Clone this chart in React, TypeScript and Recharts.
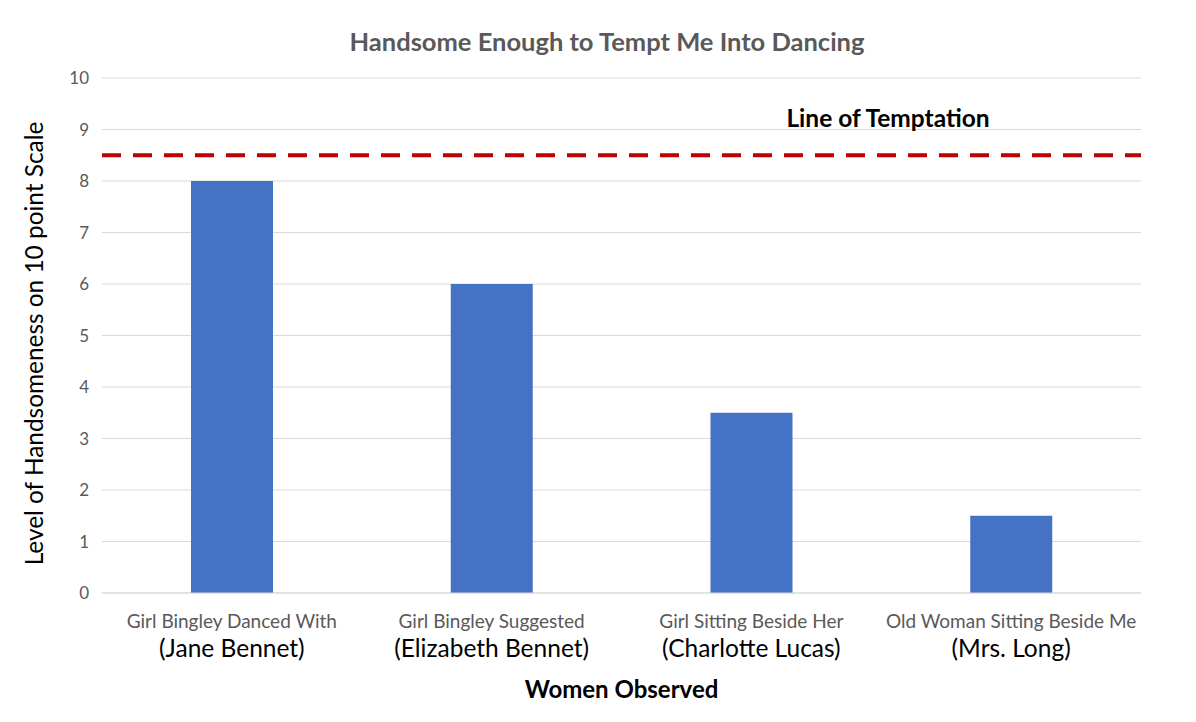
import React from "react";
import {
  BarChart,
  Bar,
  XAxis,
  YAxis,
  CartesianGrid,
  ReferenceLine,
  Label,
} from "recharts";

const groups = [
  "Girl Bingley Danced With",
  "Girl Bingley Suggested",
  "Girl Sitting Beside Her",
  "Old Woman Sitting Beside Me",
];
const names = [
  "(Jane Bennet)",
  "(Elizabeth Bennet)",
  "(Charlotte Lucas)",
  "(Mrs. Long)",
];
const scores = [8, 6, 3.5, 1.5];
const yTicks = [0, 1, 2, 3, 4, 5, 6, 7, 8, 9, 10];
const temptation = 8.5;

const data = groups.map((g, i) => ({ group: g, name: names[i], score: scores[i] }));

const FONT = "Lato, 'Open Sans', sans-serif";

function CategoryTick(props: any) {
  const { x, y, payload } = props;
  const i = payload.index;
  return (
    <g>
      <text x={x} y={y + 27} textAnchor="middle" fill="#595959" fontSize={19} fontFamily={FONT}>
        {groups[i]}
      </text>
      <text x={x} y={y + 56} textAnchor="middle" fill="#000" fontSize={24.5} fontFamily={FONT}>
        {names[i]}
      </text>
    </g>
  );
}

function TemptationLabel(props: any) {
  const { viewBox } = props;
  return (
    <text
      x={viewBox.x + viewBox.width - 253}
      y={viewBox.y - 28}
      textAnchor="middle"
      fill="#000"
      fontSize={24.5}
      fontWeight="bold"
      fontFamily={FONT}
    >
      Line of Temptation
    </text>
  );
}

export default function App() {
  return (
    <div style={{ position: "relative", width: 1180, height: 706, fontFamily: FONT }}>
      <div
        style={{
          position: "absolute",
          top: 18,
          left: 0,
          width: 1198,
          textAlign: "center",
          fontSize: 25.5,
          fontWeight: "bold",
          color: "#595959",
        }}
      >
        Handsome Enough to Tempt Me Into Dancing
      </div>
      <BarChart
        width={1180}
        height={706}
        data={data}
        margin={{ top: 70, right: 47, bottom: 0, left: 0 }}
        barSize={82}
      >
        <CartesianGrid vertical={false} stroke="#d9d9d9" strokeWidth={1} />
        <XAxis
          dataKey="group"
          axisLine={{ stroke: "#d9d9d9" }}
          tickLine={false}
          height={121}
          interval={0}
          tick={<CategoryTick />}
        >
          <Label
            value="Women Observed"
            position="insideBottom"
            offset={16}
            fill="#000"
            fontSize={24}
            fontWeight="bold"
            fontFamily={FONT}
          />
        </XAxis>
        <YAxis
          width={94}
          domain={[0, 10]}
          ticks={yTicks}
          axisLine={false}
          tickLine={false}
          tickMargin={7}
          tick={{ fill: "#595959", fontSize: 17, fontFamily: FONT }}
        >
          <Label
            value="Level of Handsomeness on 10 point Scale"
            angle={-90}
            position="insideLeft"
            offset={26}
            dy={8}
            style={{ textAnchor: "middle" }}
            fill="#000"
            fontSize={24.4}
            fontFamily={FONT}
          />
        </YAxis>
        <Bar dataKey="score" fill="#4472c4" isAnimationActive={false} />
        <ReferenceLine
          y={temptation}
          stroke="#c00000"
          strokeWidth={4}
          strokeDasharray="19 12"
          label={<TemptationLabel />}
        />
      </BarChart>
    </div>
  );
}
